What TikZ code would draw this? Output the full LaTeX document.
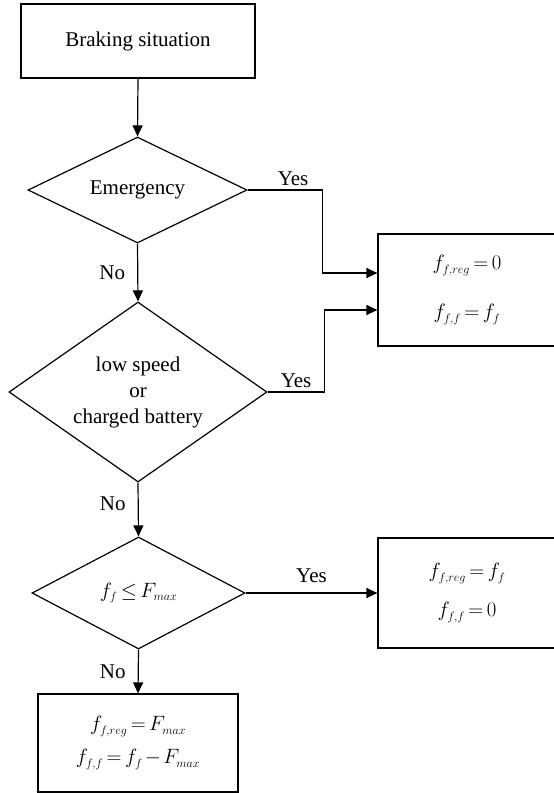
\documentclass[tikz,border=0pt]{standalone}
\usepackage{fontspec}
\setmainfont{Liberation Serif}
\usetikzlibrary{shapes.geometric,arrows.meta}
\DeclareMathSizes{21}{22}{12}{9}
\thickmuskip=3mu plus 2mu
\medmuskip=2mu plus 1mu
\begin{document}
\begin{tikzpicture}[x=1pt, y=-1pt, line width=1.2pt,
  every node/.style={font=\fontsize{21}{26}\selectfont},
  box/.style={draw, rectangle, inner sep=0pt, align=center},
  decision/.style={draw, diamond, aspect=2, inner sep=0pt, align=center},
  arr/.style={-{Triangle[length=11pt, width=10pt]}},
  lbl/.style={inner sep=4pt}]
  \useasboundingbox (0,0) rectangle (554,793);
  \node[box, minimum width=234pt, minimum height=74pt] (braking) at (138, 41) {Braking situation};
  \node[decision, minimum width=219pt, minimum height=106pt] (emergency) at (137.5, 190) {Emergency};
  \node[decision, aspect=1.4, minimum width=258pt, minimum height=180pt] (lowSpeed) at (138, 392) {low speed\\or\\charged battery};
  \node[decision, minimum width=213pt, minimum height=112pt] (forceCheck) at (138.5, 593) {$f_f \leq F_{max}$};
  \node[box, minimum width=178pt, minimum height=112pt] (regZero) at (467, 290) {$f_{f,reg}=0$\\[23pt]$f_{f,f}=f_f$};
  \node[box, minimum width=178pt, minimum height=110pt] (regFull) at (467, 593) {$f_{f,reg}=f_f$\\[13pt]$f_{f,f}=0$};
  \node[box, minimum width=200pt, minimum height=98pt] (regMax) at (138, 743) {$f_{f,reg}=F_{max}$\\[7pt]$f_{f,f}=f_f-F_{max}$};
  \draw[arr] (braking.south) -- (emergency.north);
  \draw[arr] (emergency.south) -- (lowSpeed.north) node[midway, left, lbl, xshift=-8pt] {No};
  \draw[arr] (lowSpeed.south) -- (forceCheck.north) node[midway, left, lbl, xshift=-8pt, yshift=6pt] {No};
  \draw[arr] (forceCheck.south) -- (regMax.north) node[midway, left, lbl, xshift=-8pt] {No};
  \draw[arr] (emergency.east) -- ++(75,0) node[midway, above, lbl, xshift=8pt] {Yes} |- ([yshift=17pt]regZero.west);
  \draw[arr] (lowSpeed.east) -- ++(57,0) node[midway, above, lbl] {Yes} |- ([yshift=-20pt]regZero.west);
  \draw[arr] (forceCheck.east) -- (regFull.west) node[midway, above, lbl, yshift=6pt] {Yes};
\end{tikzpicture}
\end{document}
